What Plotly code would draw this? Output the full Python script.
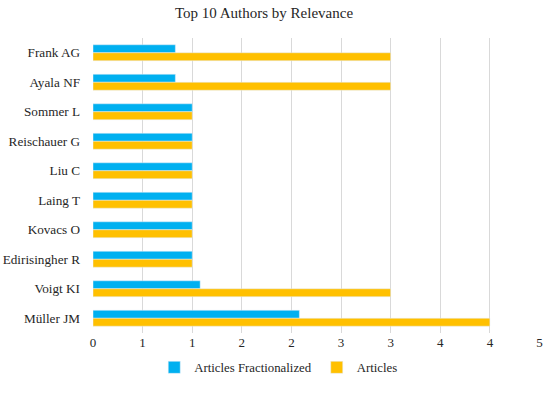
import plotly.graph_objects as go

authors = ["Frank AG", "Ayala NF", "Sommer L", "Reischauer G", "Liu C",
           "Laing T", "Kovacs O", "Edirisingher R", "Voigt KI", "Müller JM"]
articles_fractionalized = [0.83, 0.83, 1.0, 1.0, 1.0, 1.0, 1.0, 1.0, 1.08, 2.08]
articles = [3, 3, 1, 1, 1, 1, 1, 1, 3, 4]
tick_values = [0, 0.5, 1, 1.5, 2, 2.5, 3, 3.5, 4, 4.5]
tick_labels = ["0", "1", "1", "2", "2", "3", "3", "4", "4", "5"]

FONT = "Liberation Serif"

fig = go.Figure()
fig.add_trace(go.Bar(y=authors, x=articles_fractionalized, orientation="h",
                     name="Articles Fractionalized", marker_color="#00B0F0"))
fig.add_trace(go.Bar(y=authors, x=articles, orientation="h",
                     name="Articles", marker_color="#FFC000"))

fig.update_layout(
    width=550, height=393,
    margin=dict(l=92.5, r=10, t=38, b=57),
    paper_bgcolor="white", plot_bgcolor="white",
    barmode="group", bargap=0.46, bargroupgap=0,
    font=dict(family=FONT, size=13, color="#262626"),
    title=dict(text="Top 10 Authors by Relevance", x=0.48, xanchor="center",
               y=0.967, yanchor="middle", font=dict(family=FONT, size=15, color="#262626")),
    xaxis=dict(range=[0, 4.505], tickvals=tick_values, ticktext=tick_labels,
               showgrid=True, gridcolor="#d9d9d9", gridwidth=1, zeroline=False,
               showline=False, ticks="", tickfont=dict(size=13), automargin=False),
    yaxis=dict(autorange="reversed", showgrid=False, zeroline=False, showline=False,
               ticks="", ticklabelstandoff=12, tickfont=dict(size=13.2), automargin=False),
    legend=dict(orientation="h", x=0.137, xanchor="left", y=-0.117, yanchor="middle",
                font=dict(size=12.8), itemwidth=30, traceorder="normal"),
)

fig.write_html("out.html", config={"displayModeBar": False},
               post_script="document.body.style.margin='0';document.body.style.overflow='hidden';")
